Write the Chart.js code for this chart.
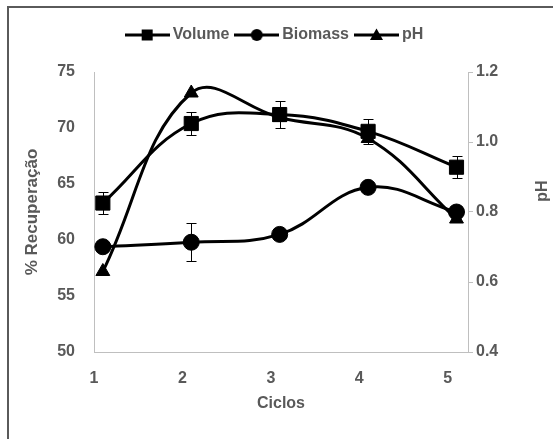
<!DOCTYPE html>
<html lang="pt">
<head>
<meta charset="UTF-8">
<title>% Recuperação por ciclo</title>
<style>
  body { margin: 0; background: #fff; }
</style>
</head>
<body>
<canvas id="chart" width="553" height="439"></canvas>
<script src="https://cdn.jsdelivr.net/npm/chart.js@4.4.1/dist/chart.umd.min.js"></script>
<script>
// values
const cycles = [1.1, 2.1, 3.1, 4.1, 5.1];
const xTicks = [1, 2, 3, 4, 5];
const volume = [63.3, 70.4, 71.2, 69.7, 66.5];
const volumeErr = [1.0, 1.0, 1.2, 1.1, 1.0];
const biomass = [59.4, 59.8, 60.5, 64.7, 62.5];
const biomassErr = [0, 1.7, 0, 0, 0];
const ph = [0.63, 1.14, 1.07, 1.01, 0.78];
const seriesNames = ['Volume', 'Biomass', 'pH'];

const grey = '#595959';
const axisGrey = '#bfbfbf';
Chart.defaults.font.family = "'Liberation Sans', Arial, sans-serif";
Chart.defaults.font.size = 16;
Chart.defaults.font.weight = 'bold';
Chart.defaults.color = grey;

function pts(ys) {
    return ys.map((y, i) => ({ x: cycles[i], y: y }));
}

// legend icon: line with the marker in the middle
function legendIcon(shape) {
    const c = document.createElement('canvas');
    c.width = 45; c.height = 16;
    const g = c.getContext('2d');
    g.fillStyle = '#000'; g.strokeStyle = '#000'; g.lineWidth = 3;
    g.beginPath(); g.moveTo(0, 8); g.lineTo(45, 8); g.stroke();
    g.beginPath();
    if (shape == 'rect') g.rect(17, 2.5, 11, 11);
    else if (shape == 'circle') g.arc(22.5, 8, 6, 0, Math.PI * 2);
    else { g.moveTo(22.5, 1.5); g.lineTo(29, 13); g.lineTo(16, 13); g.closePath(); }
    g.fill();
    return c;
}
const icons = [legendIcon('rect'), legendIcon('circle'), legendIcon('triangle')];

const errorBars = {
    id: 'errorBars',
    beforeDatasetsDraw(chart) {
        const ctx = chart.ctx;
        const xs = chart.scales.x;
        chart.data.datasets.forEach(ds => {
            if (!ds.errors) return;
            const ys = chart.scales[ds.yAxisID];
            ctx.save();
            ctx.strokeStyle = '#000';
            ctx.lineWidth = 1;
            ds.data.forEach((p, i) => {
                const e = ds.errors[i];
                if (!e) return;
                const px = Math.round(xs.getPixelForValue(p.x)) + 0.5;
                const top = Math.round(ys.getPixelForValue(p.y + e)) + 0.5;
                const bot = Math.round(ys.getPixelForValue(p.y - e)) + 0.5;
                ctx.beginPath();
                ctx.moveTo(px, top); ctx.lineTo(px, bot);
                ctx.moveTo(px - 5, top); ctx.lineTo(px + 5, top);
                ctx.moveTo(px - 5, bot); ctx.lineTo(px + 5, bot);
                ctx.stroke();
            });
            ctx.restore();
        });
    }
};

// frame + right axis title (reads bottom to top like the left one)
const frame = {
    id: 'frame',
    beforeDraw(chart) {
        const ctx = chart.ctx;
        ctx.save();
        ctx.fillStyle = '#fff';
        ctx.fillRect(0, 0, chart.width, chart.height);
        ctx.fillStyle = '#5a5a5a';
        ctx.fillRect(7, 6, 2, chart.height);
        ctx.fillRect(7, 6, chart.width, 2);
        ctx.restore();
    },
    afterDraw(chart) {
        const ctx = chart.ctx;
        ctx.save();
        ctx.translate(543, 191);
        ctx.rotate(-Math.PI / 2);
        ctx.font = "bold 16px 'Liberation Sans', Arial, sans-serif";
        ctx.fillStyle = grey;
        ctx.textAlign = 'center';
        ctx.textBaseline = 'middle';
        ctx.fillText('pH', 0, 0);
        ctx.restore();
    }
};

// more room between legend and plot
const legendSpace = {
    id: 'legendSpace',
    beforeLayout(chart) {
        const lg = chart.legend;
        if (!lg || lg._spaced) return;
        const fit = lg.fit;
        lg.fit = function () { fit.call(this); this.height += 19; };
        lg._spaced = true;
    }
};

const line = { showLine: true, tension: 0.4, borderColor: '#000', borderWidth: 3,
    pointBackgroundColor: '#000', pointBorderColor: '#000', pointBorderWidth: 1 };

new Chart(document.getElementById('chart'), {
    type: 'scatter',
    data: {
        datasets: [
            Object.assign({}, line, { label: seriesNames[0], data: pts(volume), errors: volumeErr,
                yAxisID: 'y', pointStyle: 'rect', pointRadius: 10 }),
            Object.assign({}, line, { label: seriesNames[1], data: pts(biomass), errors: biomassErr,
                yAxisID: 'y', pointStyle: 'circle', pointRadius: 8 }),
            Object.assign({}, line, { label: seriesNames[2], data: pts(ph),
                yAxisID: 'y2', pointStyle: 'triangle', pointRadius: 8 })
        ]
    },
    options: {
        responsive: false,
        animation: false,
        devicePixelRatio: 1,
        layout: { padding: { top: 17, left: 0, right: 0, bottom: 0 } },
        plugins: {
            tooltip: { enabled: false },
            legend: {
                position: 'top',
                labels: {
                    usePointStyle: true,
                    pointStyleWidth: 35,
                    padding: 10,
                    color: grey,
                    generateLabels(chart) {
                        const items = Chart.defaults.plugins.legend.labels.generateLabels(chart);
                        items.forEach((it, i) => { it.pointStyle = icons[i]; });
                        return items;
                    }
                }
            }
        },
        scales: {
            x: {
                type: 'linear', position: 'bottom', min: 1, max: 5.23,
                afterBuildTicks(s) { s.ticks = xTicks.map(v => ({ value: v })); },
                afterFit(s) { s.height = 87; },
                grid: { display: false },
                border: { display: true, color: axisGrey, width: 1 },
                ticks: { padding: 9, color: grey },
                title: { display: true, text: 'Ciclos', color: grey, padding: { top: 0, bottom: 26 } }
            },
            y: {
                position: 'left', min: 50, max: 75,
                afterFit(s) { s.width = 94; },
                grid: { display: false },
                border: { display: true, color: axisGrey, width: 1 },
                ticks: { stepSize: 5, padding: 11, color: grey },
                title: { display: true, text: '% Recuperação', color: grey, font: { size: 17 },
                    padding: { top: 22, bottom: 0 } }
            },
            y2: {
                position: 'right', min: 0.4, max: 1.2,
                afterFit(s) { s.width = 85; },
                grid: { display: true, drawOnChartArea: false, drawTicks: true, tickLength: 5, color: axisGrey },
                border: { display: true, color: axisGrey, width: 1 },
                ticks: { stepSize: 0.2, padding: 3, color: grey, callback: v => v.toFixed(1) }
            }
        }
    },
    plugins: [frame, errorBars, legendSpace]
});
</script>
</body>
</html>
